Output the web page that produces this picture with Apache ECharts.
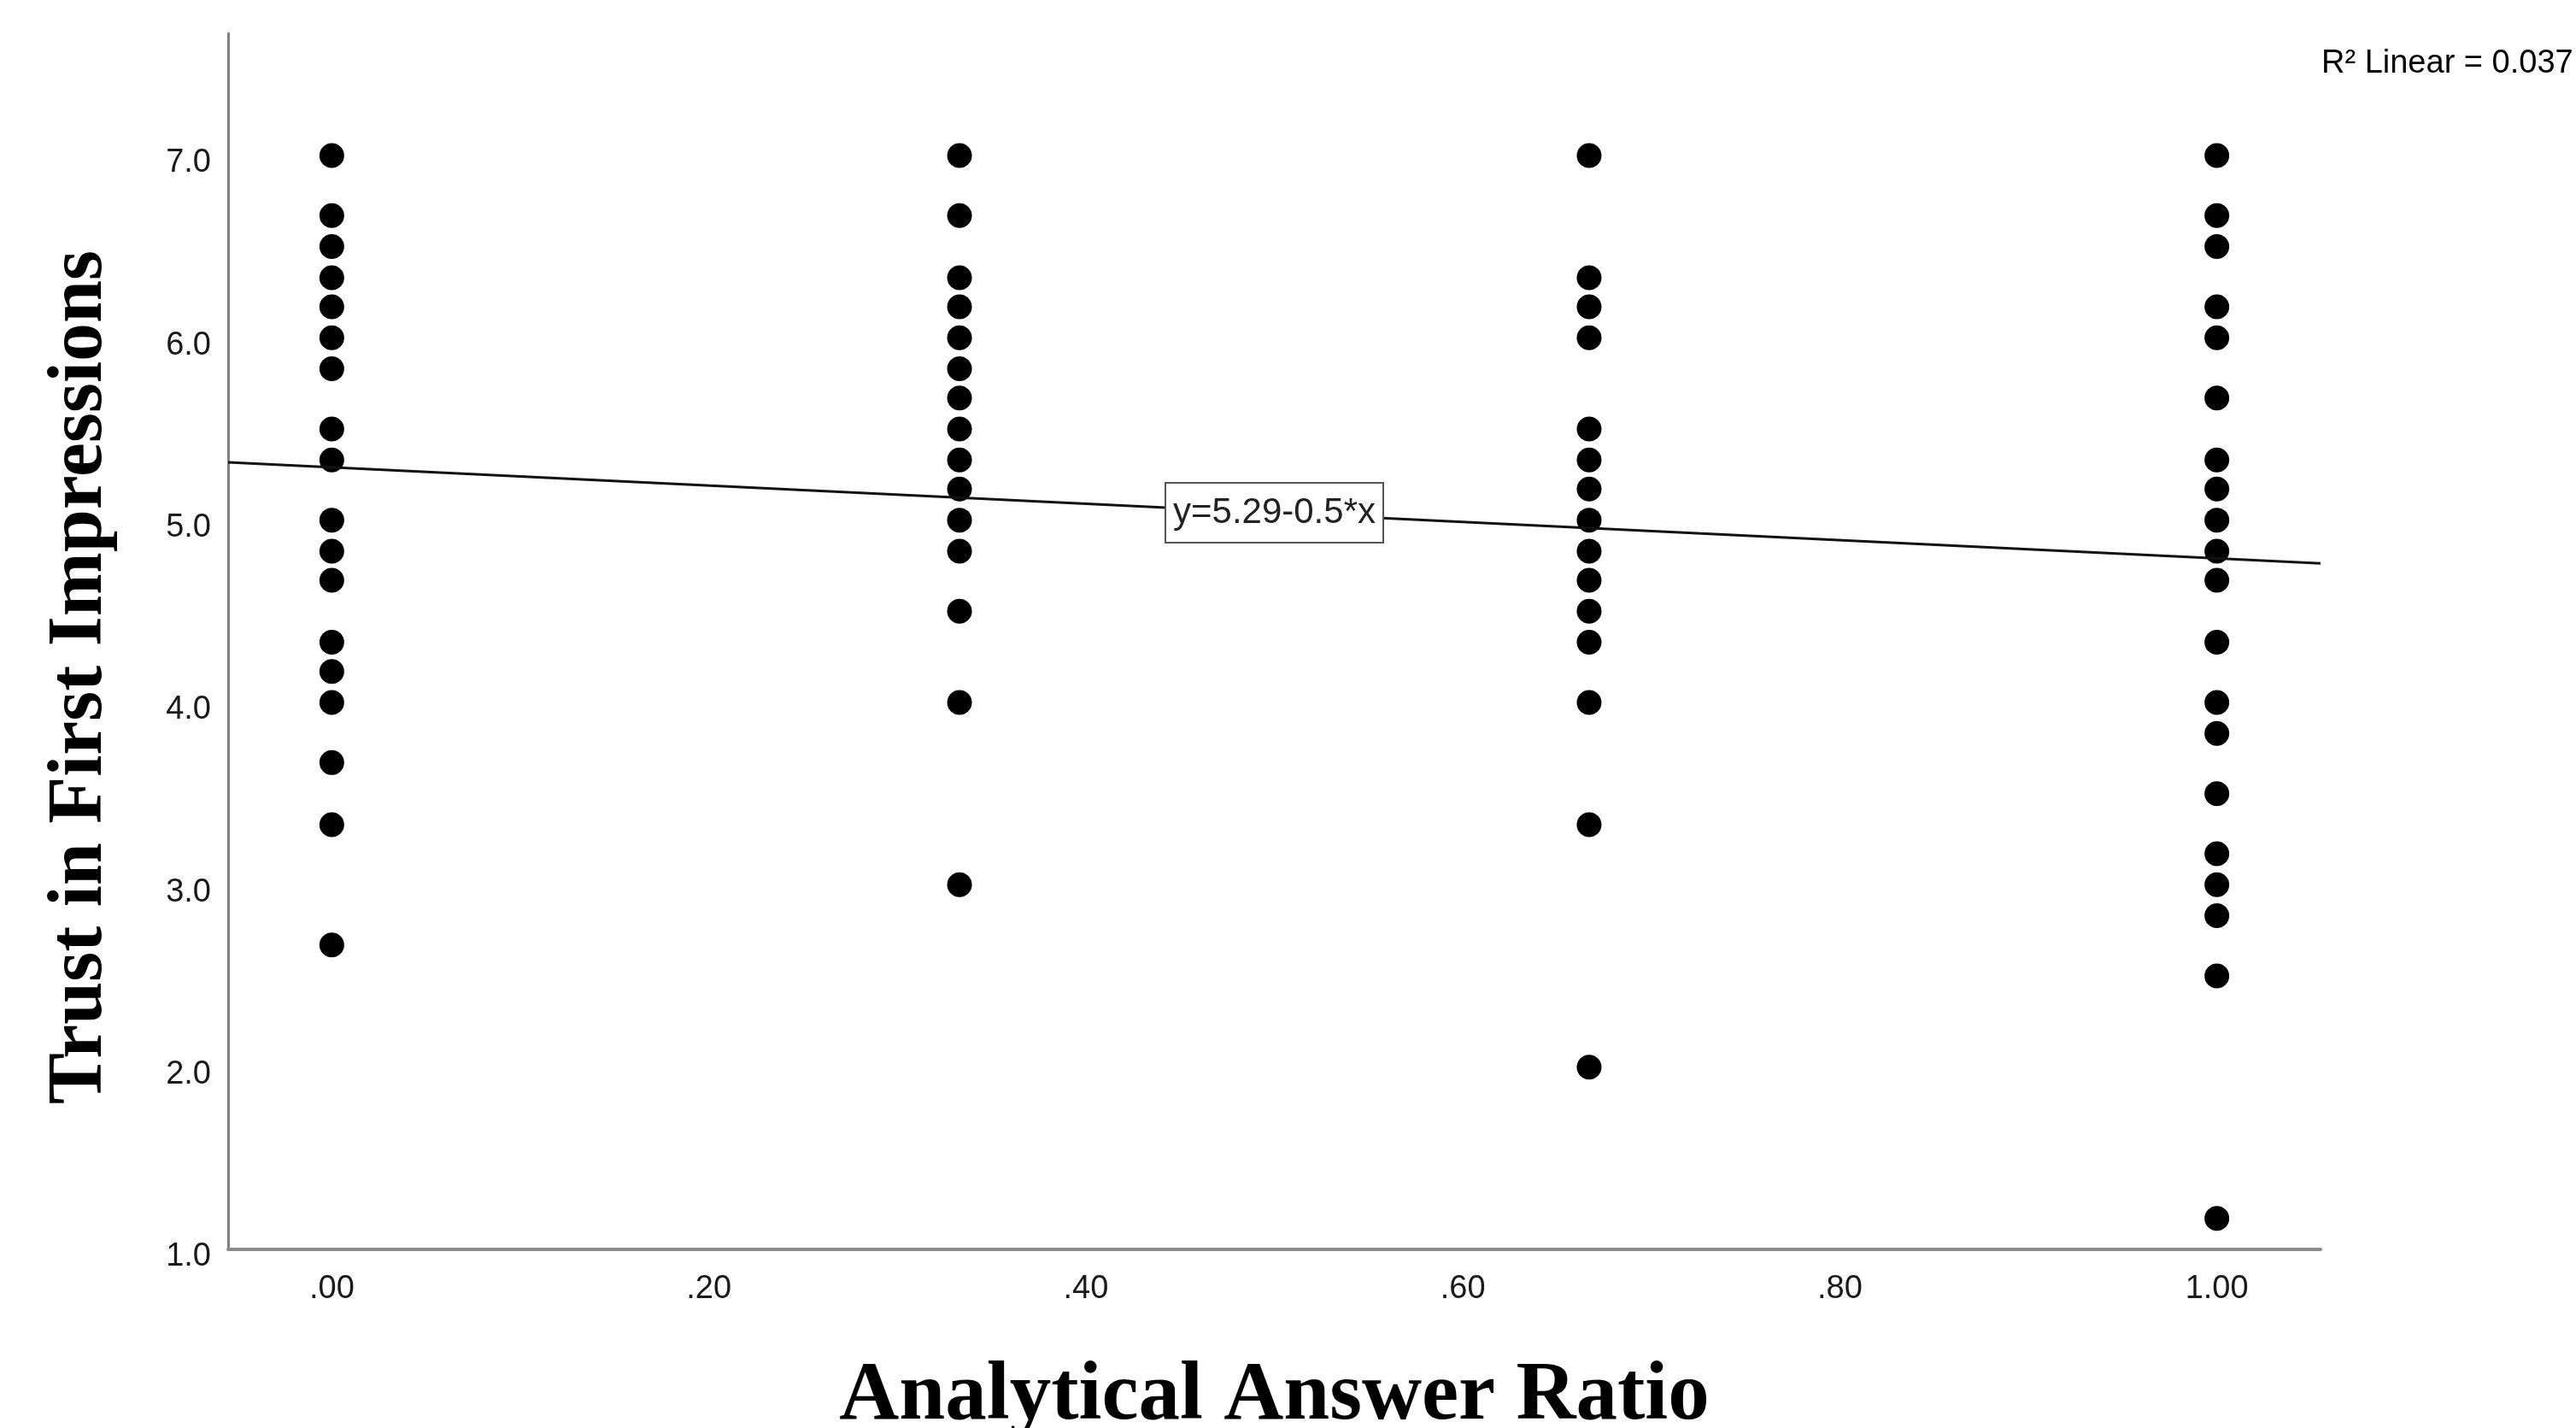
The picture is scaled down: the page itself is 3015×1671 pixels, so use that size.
<!DOCTYPE html>
<html>
<head>
<meta charset="utf-8">
<script src="https://cdn.jsdelivr.net/npm/echarts@6/dist/echarts.min.js"></script>
<style>
  html, body { margin: 0; padding: 0; background: #fff; }
  #chart { width: 3015px; height: 1671px; }
</style>
</head>
<body>
<div id="chart"></div>
<script>
// ---- data ----
const xTitle = 'Analytical Answer Ratio';
const yTitle = 'Trust in First Impressions';
const xLevels = [0, 0.333, 0.667, 1.0];
const trustAt000 = [7.0, 6.67, 6.5, 6.33, 6.17, 6.0, 5.83, 5.5, 5.33, 5.0, 4.83, 4.67, 4.33, 4.17, 4.0, 3.67, 3.33, 2.67];
const trustAt033 = [7.0, 6.67, 6.33, 6.17, 6.0, 5.83, 5.67, 5.5, 5.33, 5.17, 5.0, 4.83, 4.5, 4.0, 3.0];
const trustAt067 = [7.0, 6.33, 6.17, 6.0, 5.5, 5.33, 5.17, 5.0, 4.83, 4.67, 4.5, 4.33, 4.0, 3.33, 2.0];
const trustAt100 = [7.0, 6.67, 6.5, 6.17, 6.0, 5.67, 5.33, 5.17, 5.0, 4.83, 4.67, 4.33, 4.0, 3.83, 3.5, 3.17, 3.0, 2.83, 2.5, 1.17];
const xTickValues = [0, 0.2, 0.4, 0.6, 0.8, 1.0];
const xTickLabels = ['.00', '.20', '.40', '.60', '.80', '1.00'];
const yTickValues = [1, 2, 3, 4, 5, 6, 7];
const yTickLabels = ['1.0', '2.0', '3.0', '4.0', '5.0', '6.0', '7.0'];
const fitIntercept = 5.29;
const fitSlope = -0.5;
const fitLabel = 'y=5.29-0.5*x';
const r2Label = 'R\u00B2 Linear = 0.037';

// ---- build series data ----
const columns = [trustAt000, trustAt033, trustAt067, trustAt100];
const points = [];
columns.forEach((col, i) => col.forEach(v => points.push([xLevels[i], v])));

const X_MIN = -0.055, X_MAX = 1.055, Y_MIN = 1.0, Y_MAX = 7.67;
const fitLine = [X_MIN, X_MAX].map(x => [x, fitIntercept + fitSlope * x]);
const fitMidX = 0.5;

const sans = 'Liberation Sans, Arial, sans-serif';
const serif = 'Liberation Serif, Times New Roman, serif';

const chart = echarts.init(document.getElementById('chart'), null, { renderer: 'canvas' });
chart.setOption({
  animation: false,
  backgroundColor: '#ffffff',
  grid: { left: 267, right: 299, top: 39, bottom: 209, containLabel: false, outerBoundsMode: 'none' },
  xAxis: {
    type: 'value', min: X_MIN, max: X_MAX,
    name: xTitle, nameLocation: 'middle', nameGap: 124,
    nameTextStyle: { fontFamily: serif, fontWeight: 'bold', fontSize: 97, color: '#000' },
    axisLine: { show: true, onZero: false, lineStyle: { color: '#8c8c8c', width: 4 } },
    axisTick: { show: false },
    splitLine: { show: false },
    axisLabel: {
      customValues: xTickValues,
      formatter: v => xTickLabels[xTickValues.findIndex(t => Math.abs(t - v) < 1e-6)] ?? '',
      fontFamily: sans, fontSize: 38, color: '#1a1a1a', margin: 28
    }
  },
  yAxis: {
    type: 'value', min: Y_MIN, max: Y_MAX,
    name: yTitle, nameLocation: 'middle', nameGap: 127, nameRotate: 90,
    nameTextStyle: { fontFamily: serif, fontWeight: 'bold', fontSize: 90, color: '#000', padding: [0, 84, 0, 0] },
    axisLine: { show: true, onZero: false, lineStyle: { color: '#808080', width: 3 } },
    axisTick: { show: false },
    splitLine: { show: false },
    axisLabel: {
      customValues: yTickValues,
      formatter: v => yTickLabels[yTickValues.findIndex(t => Math.abs(t - v) < 1e-6)] ?? '',
      fontFamily: sans, fontSize: 38, color: '#1a1a1a', margin: 20,
      verticalAlign: 'top', lineHeight: 18
    }
  },
  graphic: [{
    type: 'text', left: 2717, top: 56, silent: true,
    style: { text: r2Label, font: '38px ' + sans, fill: '#000' }
  }],
  series: [
    {
      type: 'scatter', data: points, symbol: 'circle', symbolSize: 29,
      itemStyle: { color: '#000', opacity: 1 }, emphasis: { disabled: true }, z: 3
    },
    {
      type: 'line', data: fitLine, symbol: 'none', silent: true,
      lineStyle: { color: '#111', width: 3 }, z: 4,
      markPoint: {
        silent: true, symbol: 'rect', symbolSize: 1,
        itemStyle: { color: 'rgba(0,0,0,0)' },
        data: [{ coord: [fitMidX, fitIntercept + fitSlope * fitMidX] }],
        label: {
          show: true, position: 'inside', formatter: fitLabel,
          fontFamily: sans, fontSize: 42, color: '#222',
          backgroundColor: '#fff', borderColor: '#555', borderWidth: 2,
          padding: [13, 8, 13, 8]
        }
      }
    }
  ]
});
</script>
</body>
</html>
